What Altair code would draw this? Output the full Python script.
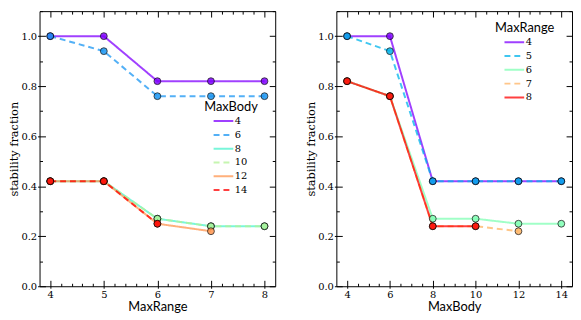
import altair as alt
import pandas as pd

# ---------------- data ----------------
max_range = [4, 5, 6, 7, 8]
max_body = [4, 6, 8, 10, 12, 14]
# stability fraction per MaxBody, indexed by MaxRange (None = no run)
frac_body4 = [1.00, 1.00, 0.82, 0.82, 0.82]
frac_body6 = [1.00, 0.94, 0.76, 0.76, 0.76]
frac_body8 = [0.42, 0.42, 0.27, 0.24, 0.24]
frac_body10 = [0.42, 0.42, 0.27, 0.24, 0.24]
frac_body12 = [0.42, 0.42, 0.25, 0.22, None]
frac_body14 = [0.42, 0.42, 0.25, None, None]
fracs = [frac_body4, frac_body6, frac_body8, frac_body10, frac_body12, frac_body14]

colors_body = ["#8000ff", "#1a96f3", "#4df3ce", "#b3f396", "#ff964f", "#ff0000"]
colors_range = ["#8000ff", "#00b4ec", "#80ffb4", "#ffb462", "#ff0000"]
dash_body = [[1, 0], [6, 4], [1, 0], [6, 4], [1, 0], [6, 4]]
dash_range = [[1, 0], [6, 4], [1, 0], [6, 4], [1, 0]]

# axes
y_major = [0.0, 0.2, 0.4, 0.6, 0.8, 1.0]
y_minor = [0.1, 0.3, 0.5, 0.7, 0.9, 1.1]
xl_major = [4, 5, 6, 7, 8]
xl_minor = [4.2, 4.4, 4.6, 4.8, 5.2, 5.4, 5.6, 5.8, 6.2, 6.4, 6.6, 6.8,
            7.2, 7.4, 7.6, 7.8]
xr_major = [4, 6, 8, 10, 12, 14]
xr_minor = [4.5, 5, 5.5, 6.5, 7, 7.5, 8.5, 9, 9.5, 10.5, 11, 11.5,
            12.5, 13, 13.5]

rows = []
for b, fr in zip(max_body, fracs):
    for r, v in zip(max_range, fr):
        if v is not None:
            rows.append({"MaxBody": b, "MaxRange": r, "frac": v,
                         "sBody": str(b), "sRange": str(r)})
df = pd.DataFrame(rows)
df_left = df.sort_values(["MaxBody", "MaxRange"]).reset_index(drop=True)
df_right = df.sort_values(["MaxRange", "MaxBody"]).reset_index(drop=True)

W, H = 239, 279
SERIF = "DejaVu Serif"
SANS = "Lato"


def make_axis(orient, values, kind, title=None, fmt=None):
    outward = orient in ("bottom", "left")
    if kind == "major":
        tin, tout = 6, (2 if outward else 0)
    else:
        tin, tout = 3, 0
    kw = dict(orient=orient, values=values, domain=False, grid=False,
              offset=-tin, tickSize=tin + tout, tickColor="black",
              tickWidth=1, title=title)
    if kind == "major" and outward:
        kw.update(labels=True, format=fmt, labelFont=SERIF, labelFontSize=10,
                  labelColor="black", labelPadding=1)
        if orient == "bottom":
            kw.update(titleFont=SANS, titleFontSize=13, titleFontWeight="normal",
                      titleColor="black", titlePadding=2)
        else:
            kw.update(titleFont=SERIF, titleFontSize=11.5, titleFontWeight="normal",
                      titleColor="black", titlePadding=1)
    else:
        kw.update(labels=False)
    return alt.Axis(**kw)


def panel(data, xfield, sfield, sdomain, colors, dashes, xdom, xmaj, xmin,
          xtitle, ltitle, lx, ly):
    base = alt.Chart(data)
    xsc = alt.Scale(domain=xdom, nice=False, zero=False)
    ysc = alt.Scale(domain=[0, 1.1], nice=False, zero=False)
    leg = dict(title=ltitle, orient="none", legendX=lx, legendY=ly,
               titleFont=SANS, titleFontSize=13, titleFontWeight="normal",
               titleColor="black", titlePadding=0, labelFont=SERIF,
               labelFontSize=10, labelColor="black",
               symbolType="M-1.63,0H1.63", symbolFillColor="transparent",
               symbolSize=150, symbolStrokeWidth=2, rowPadding=1,
               symbolOffset=12, labelOffset=4)
    lines = base.mark_line(strokeWidth=2, opacity=0.75).encode(
        x=alt.X(f"{xfield}:Q", scale=xsc,
                axis=make_axis("bottom", xmaj, "major", xtitle, "d")),
        y=alt.Y("frac:Q", scale=ysc,
                axis=make_axis("left", y_major, "major", "stability  fraction", ".1f")),
        color=alt.Color(f"{sfield}:N", sort=sdomain,
                        scale=alt.Scale(domain=sdomain, range=colors),
                        legend=alt.Legend(**leg)),
        strokeDash=alt.StrokeDash(f"{sfield}:N", sort=sdomain,
                                  scale=alt.Scale(domain=sdomain, range=dashes),
                                  legend=alt.Legend(**leg)),
    )
    pts = base.mark_circle(size=48, opacity=0.85, stroke="black",
                           strokeWidth=0.8).encode(
        x=alt.X(f"{xfield}:Q", scale=xsc, axis=make_axis("top", xmaj, "major")),
        y=alt.Y("frac:Q", scale=ysc, axis=make_axis("right", y_major, "major")),
        fill=alt.Fill(f"{sfield}:N", sort=sdomain,
                      scale=alt.Scale(domain=sdomain, range=colors), legend=None),
    )
    minor1 = base.mark_circle(opacity=0).encode(
        x=alt.X(f"{xfield}:Q", scale=xsc, axis=make_axis("bottom", xmin, "minor")),
        y=alt.Y("frac:Q", scale=ysc, axis=make_axis("left", y_minor, "minor")),
    )
    minor2 = base.mark_circle(opacity=0).encode(
        x=alt.X(f"{xfield}:Q", scale=xsc, axis=make_axis("top", xmin, "minor")),
        y=alt.Y("frac:Q", scale=ysc, axis=make_axis("right", y_minor, "minor")),
    )
    return alt.layer(lines, pts, minor1, minor2).resolve_axis(
        x="independent", y="independent").properties(width=W, height=H)


left = panel(df_left, "MaxRange", "sBody", [str(b) for b in max_body],
             colors_body, dash_body, [3.8, 8.2], xl_major, xl_minor,
             "MaxRange", "MaxBody", 167, 91)
right = panel(df_right, "MaxBody", "sRange", [str(r) for r in max_range],
              colors_range, dash_range, [3.5, 14.5], xr_major, xr_minor,
              "MaxBody", "MaxRange", 161, 11)

chart = alt.hconcat(left, right, spacing=29).resolve_scale(
    color="independent", strokeDash="independent", fill="independent"
).configure_view(stroke="black", strokeWidth=1).properties(padding=0)

chart.save("out.html", embed_options={"renderer": "svg", "actions": False})
